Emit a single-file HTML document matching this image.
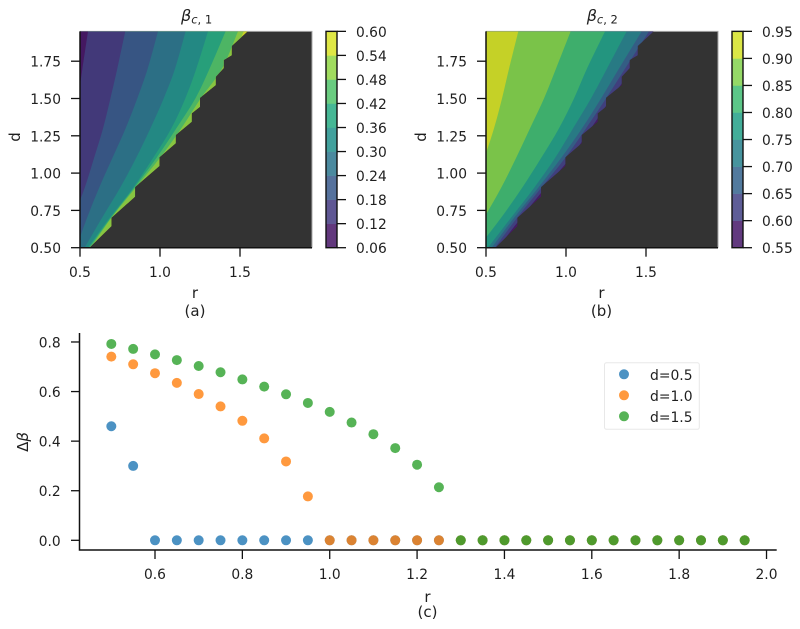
<!DOCTYPE html>
<html>
<head>
<meta charset="utf-8">
<title>Critical beta contours</title>
<style>
html,body{margin:0;padding:0;background:#fff;}
svg{display:block;}
text{font-family:"DejaVu Sans","Liberation Sans",sans-serif;fill:#1f1f1f;}
</style>
</head>
<body>
<svg id="fig" xmlns="http://www.w3.org/2000/svg" width="800" height="629" viewBox="0 0 800 629">
  <rect width="800" height="629" fill="#fff"/>
  <text x="181" y="21" font-size="16"><tspan font-style="italic">β</tspan><tspan font-size="11.5" dy="2.5"><tspan font-style="italic">c</tspan>, 1</tspan></text>
  <text x="586.7" y="21" font-size="16"><tspan font-style="italic">β</tspan><tspan font-size="11.5" dy="2.5"><tspan font-style="italic">c</tspan>, 2</tspan></text>
  <text transform="translate(20,137) rotate(-90)" text-anchor="middle" font-size="15">d</text>
  <text transform="translate(426,137) rotate(-90)" text-anchor="middle" font-size="15">d</text>
  <text x="195" y="298" text-anchor="middle" font-size="15">r</text>
  <text x="601.5" y="298" text-anchor="middle" font-size="15">r</text>
  <text x="195" y="316" text-anchor="middle" font-size="15">(a)</text>
  <text x="601.5" y="316" text-anchor="middle" font-size="15">(b)</text>
  <text transform="translate(28,442) rotate(-90)" text-anchor="middle" font-size="15">Δ<tspan font-style="italic">β</tspan></text>
  <text x="427.5" y="602" text-anchor="middle" font-size="15">r</text>
  <text x="427.5" y="617" text-anchor="middle" font-size="15">(c)</text>
  <g id="panelA"></g>
  <g id="panelB"></g>
  <g id="panelC"></g>
  <g id="legend"></g>
</svg>
<script>
// Contour rows (d) and the staircase edge of the feasible region
const dRows = [0.5, 0.7, 0.9, 1.1, 1.3, 1.5, 1.7, 1.95];
const edgeR = [0.558,0.696,0.696,0.844,0.844,0.996,0.996,1.098,1.098,1.198,1.198,1.25,1.25,1.348,1.348,1.398,1.398,1.448,1.448,1.548];
const edgeD = [0.5,0.645,0.701,0.842,0.907,1.048,1.106,1.2,1.255,1.344,1.4,1.445,1.505,1.59,1.646,1.704,1.758,1.79,1.852,1.95];

// Panel (a): r position of each contour level along dRows
const levelsA = [0.06,0.12,0.18,0.24,0.30,0.36,0.42,0.48,0.54,0.60];
const tickLabelsA = ['0.06','0.12','0.18','0.24','0.30','0.36','0.42','0.48','0.54','0.60'];
const a12 = [0.279,0.321,0.3625,0.404,0.446,0.4875,0.515,0.55];
const a18 = [0.383,0.456,0.529,0.5875,0.644,0.69,0.733,0.783];
const a24 = [0.477,0.544,0.619,0.702,0.785,0.858,0.923,0.9875];
const a30 = [0.529,0.6375,0.75,0.85,0.94,1.023,1.094,1.16];
const a36 = [0.55,0.685,0.831,0.956,1.071,1.158,1.227,1.3];
const a42 = [0.558,0.692,0.8375,0.977,1.102,1.221,1.31,1.41];
const a48 = [0.567,0.696,0.846,0.998,1.133,1.254,1.3875,1.4875];
const a54 = [0.6125,0.758,0.904,1.05,1.196,1.321,1.425,1.523];

// Panel (b): r position of each contour level along dRows
const levelsB = [0.55,0.60,0.65,0.70,0.75,0.80,0.85,0.90,0.95];
const tickLabelsB = ['0.55','0.60','0.65','0.70','0.75','0.80','0.85','0.90','0.95'];
const b60 = [0.575,0.719,0.869,1.025,1.156,1.281,1.4125,1.544];
const b65 = [0.556,0.694,0.844,0.994,1.125,1.25,1.369,1.519];
const b70 = [0.536,0.675,0.825,0.969,1.1,1.219,1.331,1.473];
const b75 = [0.5125,0.656,0.8,0.931,1.044,1.156,1.256,1.379];
const b80 = [0.45,0.594,0.725,0.844,0.956,1.05,1.131,1.244];
const b85 = [0.375,0.4875,0.594,0.6875,0.775,0.8625,0.9375,1.029];
const b90 = [0.244,0.325,0.406,0.4875,0.55,0.6,0.644,0.702];

// Panel (a)/(b) axis ticks
const contourXTicks = [0.5,1.0,1.5];
const contourXLabels = ['0.5','1.0','1.5'];
const contourYTicks = [0.5,0.75,1.0,1.25,1.5,1.75];
const contourYLabels = ['0.50','0.75','1.00','1.25','1.50','1.75'];

// Panel (c): scatter series
const rValues = [0.5,0.55,0.6,0.65,0.7,0.75,0.8,0.85,0.9,0.95,1.0,1.05,1.1,1.15,1.2,1.25,1.3,1.35,1.4,1.45,1.5,1.55,1.6,1.65,1.7,1.75,1.8,1.85,1.9,1.95];
const deltaD05 = [0.46,0.30,0,0,0,0,0,0,0,0,0,0,0,0,0,0,0,0,0,0,0,0,0,0,0,0,0,0,0,0];
const deltaD10 = [0.741,0.710,0.674,0.635,0.590,0.540,0.482,0.411,0.318,0.177,0,0,0,0,0,0,0,0,0,0,0,0,0,0,0,0,0,0,0,0];
const deltaD15 = [0.792,0.772,0.750,0.727,0.703,0.678,0.649,0.620,0.589,0.554,0.518,0.475,0.428,0.372,0.305,0.214,0,0,0,0,0,0,0,0,0,0,0,0,0,0];
const cXTicks = [0.6,0.8,1.0,1.2,1.4,1.6,1.8,2.0];
const cXLabels = ['0.6','0.8','1.0','1.2','1.4','1.6','1.8','2.0'];
const cYTicks = [0,0.2,0.4,0.6,0.8];
const cYLabels = ['0.0','0.2','0.4','0.6','0.8'];
const legendLabels = ['d=0.5','d=1.0','d=1.5'];

const NS = 'http://www.w3.org/2000/svg';
const DARK = '#333333';
const INK = '#111111';
const viridis = [[68,1,84],[72,36,117],[65,68,135],[53,95,141],[42,120,142],[33,145,140],[34,168,132],[68,191,112],[122,209,81],[189,223,38],[253,231,37]];

function viridisAt(t, alpha, bg) {
  const p = Math.min(Math.max(t, 0), 1) * 10;
  const i = Math.min(Math.floor(p), 9);
  const f = p - i;
  const c = [0, 1, 2].map(k => viridis[i][k] + (viridis[i + 1][k] - viridis[i][k]) * f);
  return 'rgb(' + c.map((v, k) => Math.round(v * alpha + bg[k] * (1 - alpha))).join(',') + ')';
}
function make(tag, attrs, parent) {
  const el = document.createElementNS(NS, tag);
  Object.keys(attrs).forEach(k => el.setAttribute(k, attrs[k]));
  parent.appendChild(el);
  return el;
}

const contourX = (r, left) => left + (r - 0.5) * 160;
const contourY = d => 247.7 - (d - 0.5) * 149.2;

// Smooth (Catmull-Rom) path through a contour curve, closed along the left of the panel
function curvePath(curve, left, top, bottom) {
  const p = curve.map((r, i) => [contourX(r, left), contourY(dRows[i])]);
  let d = 'M' + p[0][0] + ' ' + p[0][1];
  for (let i = 0; i < p.length - 1; i++) {
    const p0 = p[Math.max(i - 1, 0)];
    const p1 = p[i];
    const p2 = p[i + 1];
    const p3 = p[Math.min(i + 2, p.length - 1)];
    d += 'C' + (p1[0] + (p2[0] - p0[0]) / 6) + ' ' + (p1[1] + (p2[1] - p0[1]) / 6) + ' ' +
         (p2[0] - (p3[0] - p1[0]) / 6) + ' ' + (p2[1] - (p3[1] - p1[1]) / 6) + ' ' + p2[0] + ' ' + p2[1];
  }
  d += 'L' + (left - 120) + ' ' + top + 'L' + (left - 120) + ' ' + bottom + 'Z';
  return d;
}

function drawContour(parent, panelId, left, levels, curves, highOnLeft, tickLabels, barLeft) {
  const vMin = levels[0];
  const vMax = levels[levels.length - 1];
  const top = contourY(1.95);
  const bottom = contourY(0.5);
  const right = contourX(1.95, left);

  const defs = make('defs', {}, parent);
  const clip = make('clipPath', { id: panelId + '-clip' }, defs);
  const clipPts = edgeR.map((r, i) => contourX(r, left) + ',' + contourY(edgeD[i]));
  clipPts.push(left + ',' + top);
  clipPts.push(left + ',' + bottom);
  make('polygon', { points: clipPts.join(' ') }, clip);

  const bg = make('rect', { x: left, y: top, width: right - left, height: bottom - top, fill: DARK }, parent);
  
  

  const frame = make('path', { d: 'M' + left + ' ' + top + 'H' + right + 'V' + bottom, fill: 'none', stroke: '#a8a8a8', 'stroke-width': 1 }, parent);
  
  

  const bands = make('g', { 'clip-path': 'url(#' + panelId + '-clip)' }, parent);
  
  

  const nBands = levels.length - 1;
  const bandColor = (idx, alpha, back) => {
    const mid = (levels[idx] + levels[idx + 1]) / 2;
    return viridisAt((mid - vMin) / (vMax - vMin), alpha, back);
  };
  const back = [51, 51, 51];
  const outerIdx = highOnLeft ? 0 : nBands - 1;
  const outer = make('rect', { x: left, y: top, width: right - left, height: bottom - top, fill: bandColor(outerIdx, 0.9, back) }, bands);
  
  

  curves.forEach((curve, c) => {
    const idx = highOnLeft ? c + 1 : nBands - 2 - c;
    const poly = make('path', { d: curvePath(curve, left, top, bottom), fill: bandColor(idx, 0.9, back) }, bands);
    
    
  });

  contourXTicks.forEach((v, i) => {
    const x = contourX(v, left);
    const tick = make('line', { x1: x, x2: x, y1: bottom, y2: bottom + 9, stroke: INK, 'stroke-width': 1.3 }, parent);
    
    
    const label = make('text', { x: x, y: 277, 'text-anchor': 'middle', 'font-size': 13.8 }, parent);
    label.textContent = contourXLabels[i];
    
    
  });
  contourYTicks.forEach((v, i) => {
    const y = contourY(v);
    const tick = make('line', { x1: left - 9, x2: left, y1: y, y2: y, stroke: INK, 'stroke-width': 1.3 }, parent);
    
    
    const label = make('text', { x: left - 19, y: y + 5.5, 'text-anchor': 'end', 'font-size': 13.8 }, parent);
    label.textContent = contourYLabels[i];
    
    
  });
  const spines = make('path', { d: 'M' + left + ' ' + top + 'V' + bottom + 'H' + right, fill: 'none', stroke: INK, 'stroke-width': 1.5 }, parent);
  
  

  // colorbar
  const barWidth = 11;
  const barY = v => bottom - (v - vMin) / (vMax - vMin) * (bottom - top);
  const white = [255, 255, 255];
  for (let i = 0; i < nBands; i++) {
    const yHigh = barY(levels[i + 1]);
    const yLow = barY(levels[i]);
    const seg = make('rect', { x: barLeft, y: yHigh, width: barWidth, height: yLow - yHigh + 0.3, fill: bandColor(i, 0.85, white) }, parent);
    
    
  }
  const barFrame = make('rect', { x: barLeft, y: top, width: barWidth, height: bottom - top, fill: 'none', stroke: INK, 'stroke-width': 1.4 }, parent);
  
  
  levels.forEach((v, i) => {
    const y = barY(v);
    const tick = make('line', { x1: barLeft + barWidth, x2: barLeft + barWidth + 9, y1: y, y2: y, stroke: INK, 'stroke-width': 1.3 }, parent);
    
    
    const label = make('text', { x: barLeft + barWidth + 19, y: y + 5.5, 'font-size': 13.8 }, parent);
    label.textContent = tickLabels[i];
    
    
  });
}

drawContour(document.getElementById('panelA'), 'panel-a', 80, levelsA, [a54, a48, a42, a36, a30, a24, a18, a12], false, tickLabelsA, 326);
drawContour(document.getElementById('panelB'), 'panel-b', 486, levelsB, [b60, b65, b70, b75, b80, b85, b90], true, tickLabelsB, 732);

// Panel (c)
const cX = r => 155 + (r - 0.6) * 436.8;
const cY = v => 540.3 - v * 247.9;
const seriesColors = ['#1f77b4', '#ff7f0e', '#2ca02c'];
const panelC = document.getElementById('panelC');

[deltaD05, deltaD10, deltaD15].forEach((values, s) => {
  const group = make('g', { fill: seriesColors[s], 'fill-opacity': 0.8 }, panelC);
  
  
  values.forEach((v, i) => {
    const dot = make('circle', { cx: cX(rValues[i]), cy: cY(v), r: 5 }, group);
    
    
  });
});
const cSpines = make('path', { d: 'M79.5 333V550H776.7', fill: 'none', stroke: INK, 'stroke-width': 1.5 }, panelC);


cXTicks.forEach((v, i) => {
  const x = cX(v);
  const tick = make('line', { x1: x, x2: x, y1: 550, y2: 559, stroke: INK, 'stroke-width': 1.3 }, panelC);
  
  
  const label = make('text', { x: x, y: 579, 'text-anchor': 'middle', 'font-size': 13.8 }, panelC);
  label.textContent = cXLabels[i];
  
  
});
cYTicks.forEach((v, i) => {
  const y = cY(v);
  const tick = make('line', { x1: 71, x2: 79.5, y1: y, y2: y, stroke: INK, 'stroke-width': 1.3 }, panelC);
  
  
  const label = make('text', { x: 60.7, y: y + 5.5, 'text-anchor': 'end', 'font-size': 13.8 }, panelC);
  label.textContent = cYLabels[i];
  
  
});

// Legend
const legend = document.getElementById('legend');
const legendBox = make('rect', { x: 604.5, y: 362.8, width: 94.8, height: 66.5, rx: 2, fill: '#fff', stroke: '#e8e8e8', 'stroke-width': 1 }, legend);


legendLabels.forEach((name, i) => {
  const rowY = 374.3 + i * 21;
  const marker = make('circle', { cx: 624, cy: rowY, r: 5, fill: seriesColors[i], 'fill-opacity': 0.8 }, legend);
  
  
  const label = make('text', { x: 650, y: rowY + 5.5, 'font-size': 13.9 }, legend);
  label.textContent = name;
  
  
});
</script>
</body>
</html>
